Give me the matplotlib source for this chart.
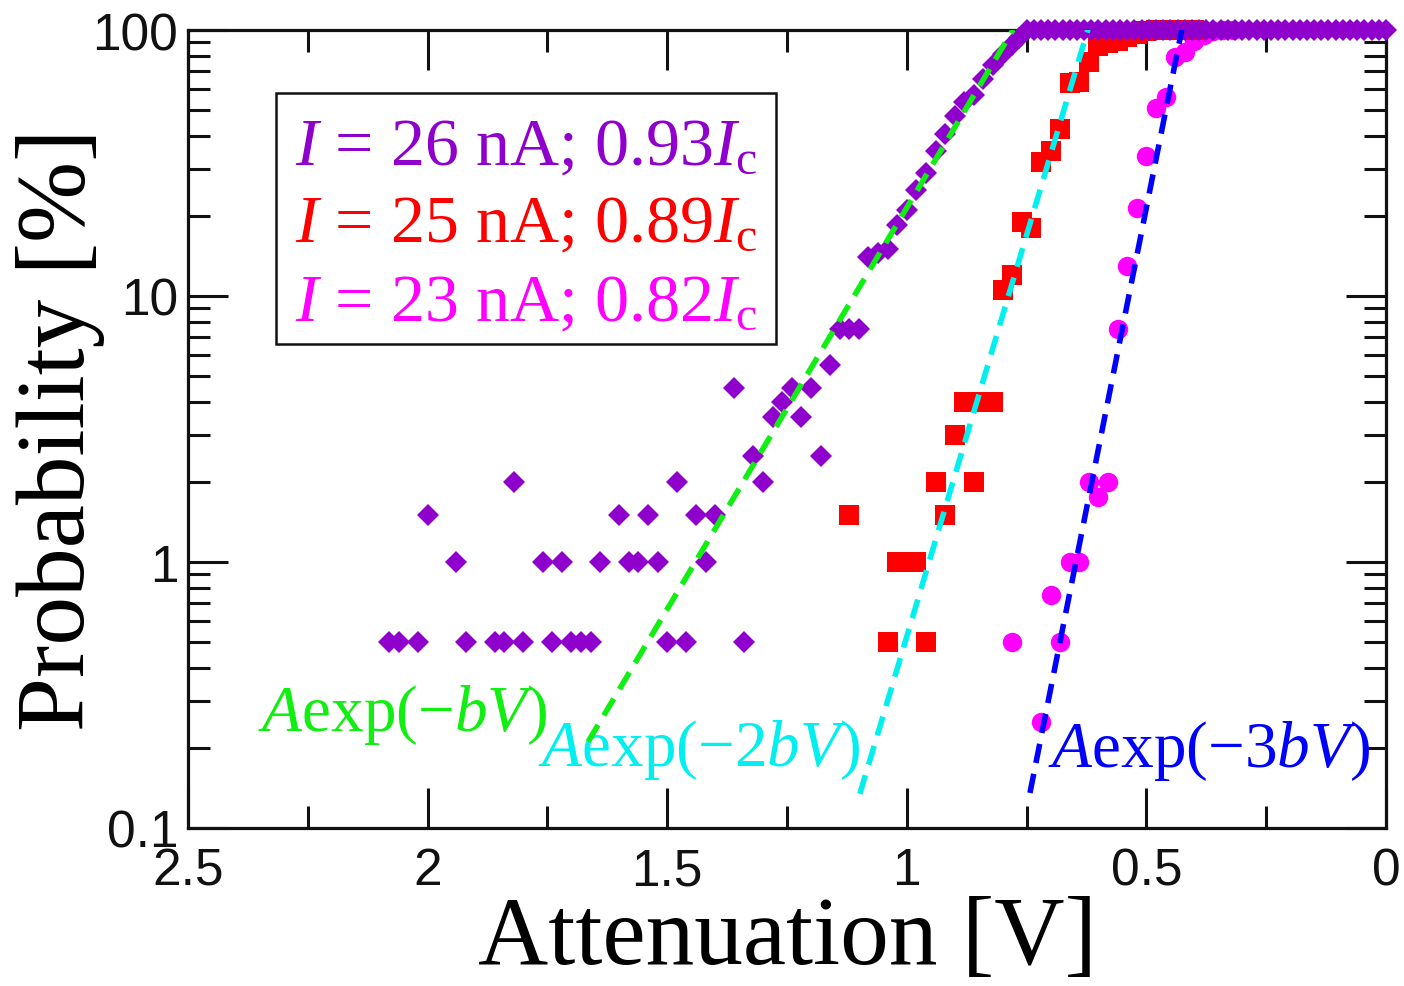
import matplotlib
matplotlib.use("Agg")
import matplotlib.pyplot as plt
import numpy as np
from matplotlib.patches import Rectangle

plt.rcParams["mathtext.fontset"] = "custom"
plt.rcParams["mathtext.rm"] = "Liberation Serif"
plt.rcParams["mathtext.it"] = "Liberation Serif:italic"
plt.rcParams["lines.scale_dashes"] = False

# --- data (attenuation V, switching probability %) ---
purple_v = [2.08, 2.06, 2.02, 2.00, 1.94, 1.92, 1.86, 1.84, 1.82, 1.80,
            1.76, 1.74, 1.72, 1.70, 1.68, 1.66, 1.64, 1.60, 1.58, 1.56,
            1.54, 1.52, 1.50, 1.48, 1.46, 1.44, 1.42, 1.40, 1.36, 1.34,
            1.32, 1.30, 1.28, 1.26, 1.24, 1.22, 1.20, 1.18, 1.16, 1.14,
            1.12, 1.10, 1.08, 1.06, 1.04, 1.02, 1.00, 0.98, 0.96, 0.94,
            0.92, 0.90, 0.88, 0.86, 0.84, 0.82, 0.80, 0.78, 0.765]
purple_p = [0.5, 0.5, 0.5, 1.5, 1.0, 0.5, 0.5, 0.5, 2.0, 0.5,
            1.0, 0.5, 1.0, 0.5, 0.5, 0.5, 1.0, 1.5, 1.0, 1.0,
            1.5, 1.0, 0.5, 2.0, 0.5, 1.5, 1.0, 1.5, 4.5, 0.5,
            2.5, 2.0, 3.5, 4.0, 4.5, 3.5, 4.5, 2.5, 5.5, 7.5,
            7.5, 7.5, 14.0, 14.5, 15.0, 18.5, 21.0, 25.0, 29.0, 35.0,
            40.5, 47.5, 53.5, 57.0, 65.5, 74.0, 81.0, 88.0, 93.0]
# saturated (100 %) part of the 26 nA curve
purple_top_v = [0.750, 0.735, 0.720, 0.705, 0.690, 0.675, 0.660, 0.645,
                0.630, 0.615, 0.600, 0.585, 0.570, 0.555, 0.540, 0.525,
                0.510, 0.495, 0.480, 0.465, 0.450, 0.435, 0.420, 0.405,
                0.390, 0.375, 0.360, 0.345, 0.330, 0.315, 0.300, 0.285,
                0.270, 0.255, 0.240, 0.225, 0.210, 0.195, 0.180, 0.165,
                0.150, 0.135, 0.120, 0.105, 0.090, 0.075, 0.060, 0.045,
                0.030, 0.015, 0.000]

red_v = [1.12, 1.04, 1.02, 1.00, 0.98, 0.96, 0.94, 0.92, 0.90, 0.88,
         0.86, 0.84, 0.82, 0.80, 0.78, 0.76, 0.74, 0.72, 0.70, 0.68,
         0.66, 0.64, 0.62, 0.60, 0.58, 0.56, 0.54, 0.52, 0.50, 0.48,
         0.46, 0.44, 0.42, 0.40]
red_p = [1.5, 0.5, 1.0, 1.0, 1.0, 0.5, 2.0, 1.5, 3.0, 4.0,
         2.0, 4.0, 4.0, 10.5, 12.0, 19.0, 18.0, 32.0, 35.0, 42.5,
         63.0, 64.0, 76.0, 87.0, 89.0, 91.0, 94.0, 97.0, 99.0, 100.0,
         100.0, 100.0, 100.0, 100.0]

magenta_v = [0.78, 0.72, 0.70, 0.68, 0.66, 0.64, 0.62, 0.60, 0.58, 0.56,
             0.54, 0.52, 0.50, 0.48, 0.46, 0.44, 0.42, 0.40, 0.38, 0.36,
             0.34, 0.32]
magenta_p = [0.5, 0.25, 0.75, 0.5, 1.0, 1.0, 2.0, 1.75, 2.0, 7.5,
             13.0, 21.5, 33.5, 51.0, 56.0, 79.0, 82.5, 91.0, 96.0, 99.0,
             100.0, 100.0]

# fits A exp(-n b V)
fit_n = [1, 2, 3]
fit_A = [2.24e4, 5.71e5, 7.24e5]
fit_b = 6.95
fit_vstart = [1.665, 1.098, 0.743]
fit_vend = [0.778, 0.622, 0.426]
fit_colors = ["#11ee11", "#00f0f0", "#0000ff"]

legend_labels = [r"$I$ = 26 nA; 0.93$I_{\mathrm{c}}$",
                 r"$I$ = 25 nA; 0.89$I_{\mathrm{c}}$",
                 r"$I$ = 23 nA; 0.82$I_{\mathrm{c}}$"]
series_colors = ["#9000cc", "#ff0000", "#ff00ff"]

xticks = [2.5, 2.0, 1.5, 1.0, 0.5, 0.0]
xtick_labels = ["2.5", "2", "1.5", "1", "0.5", "0"]
yticks = [0.1, 1, 10, 100]
ytick_labels = ["0.1", "1", "10", "100"]

serif = "Liberation Serif"
sans = "Liberation Sans"

fig = plt.figure(figsize=(14.04, 9.87), dpi=100)
ax = fig.add_axes([188 / 1404, (987 - 829) / 987, 1198 / 1404, 798 / 987])

ax.plot(magenta_v, magenta_p, "o", color=series_colors[2], ms=14, mew=0,
        clip_on=False, zorder=3)
ax.plot(red_v, red_p, "s", color=series_colors[1], ms=14, mew=0,
        clip_on=False, zorder=4)
ax.plot(purple_v + purple_top_v, purple_p + [100.0] * len(purple_top_v), "D",
        color=series_colors[0], ms=11.5, mew=0, clip_on=False, zorder=5)

for n, A, v0, v1, c in zip(fit_n, fit_A, fit_vstart, fit_vend, fit_colors):
    vv = np.linspace(v0, v1, 100)
    ax.plot(vv, A * np.exp(-n * fit_b * vv), color=c, lw=4.0,
            dashes=(14, 8), zorder=6)

ax.set_yscale("log")
ax.set_xlim(2.5, 0)
ax.set_ylim(0.1, 100)

ax.set_xticks(xticks, labels=xtick_labels)
ax.set_xticks([2.25, 1.75, 1.25, 0.75, 0.25], minor=True)
ax.set_yticks(yticks, labels=ytick_labels)
ax.yaxis.set_minor_locator(matplotlib.ticker.LogLocator(base=10, subs=np.arange(2, 10)))
ax.yaxis.set_minor_formatter(matplotlib.ticker.NullFormatter())

ax.tick_params(which="both", direction="in", top=True, right=True, width=2.2,
               colors="#111111")
ax.tick_params(which="major", length=29, labelsize=37, pad=13)
ax.tick_params(which="minor", length=16)
ax.tick_params(axis="y", which="major", pad=7)
for lab in ax.get_xticklabels() + ax.get_yticklabels():
    lab.set_fontfamily(sans)
for sp in ax.spines.values():
    sp.set_linewidth(2.3)
    sp.set_color("#111111")

ax.set_xlabel("Attenuation [V]", fontsize=70, family=serif)
ax.set_ylabel("Probability [%]", fontsize=70, family=serif)
ax.xaxis.set_label_coords(0.5, -0.085)
ax.yaxis.set_label_coords(-0.069, 0.5)

# legend box with coloured lines of text
ax.add_patch(Rectangle((0.0735, 0.6065), 0.4173, 0.3145, transform=ax.transAxes,
                       fill=False, lw=1.8, ec="#111111", zorder=7))
for lab, c, y in zip(legend_labels, series_colors, [0.833, 0.7356, 0.6366]):
    ax.text(0.0893, y, lab, color=c, fontsize=49, family=serif,
            transform=ax.transAxes, ha="left", va="baseline", zorder=8)

ax.text(2.354, 0.234, r"$A$exp(−$bV$)", color=fit_colors[0], fontsize=47,
        family=serif, ha="left", va="baseline")
ax.text(1.770, 0.172, r"$A$exp(−2$bV$)", color=fit_colors[1], fontsize=47,
        family=serif, ha="left", va="baseline")
ax.text(0.705, 0.171, r"$A$exp(−3$bV$)", color=fit_colors[2], fontsize=47,
        family=serif, ha="left", va="baseline")

fig.savefig("out.png", dpi=100)
